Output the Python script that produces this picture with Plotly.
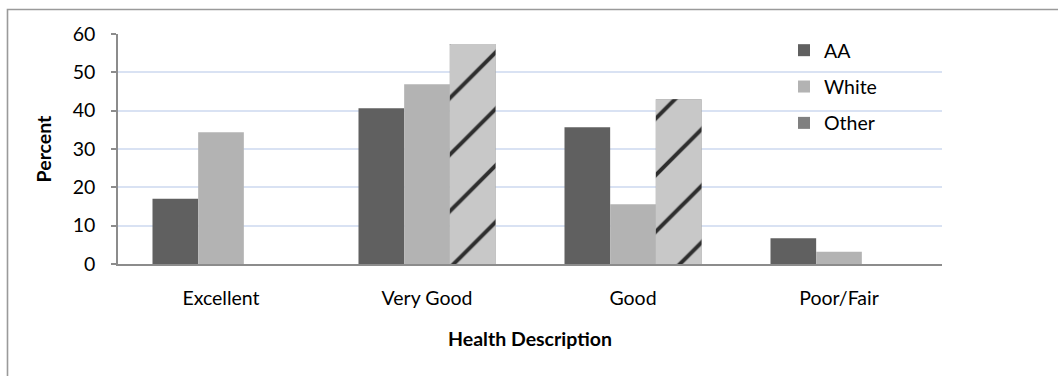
import plotly.graph_objects as go

# Self-rated health by group (percent of respondents)
categories = ["Excellent", "Very Good", "Good", "Poor/Fair"]
aa_pct = [17.0, 40.6, 35.7, 6.7]
white_pct = [34.4, 46.9, 15.6, 3.2]
other_pct = [0.0, 57.4, 43.0, 0.0]
y_ticks = [0, 10, 20, 30, 40, 50, 60]

FONT = "Lato"
FS = 19.5
W, H = 1058, 376
L, R, T, B = 118, 116, 34, 112
PW, PH = W - L - R, H - T - B

bar_w = 0.2217  # fraction of a category slot per bar

fig = go.Figure()
fig.add_trace(go.Bar(
    x=categories, y=aa_pct, name="AA", legendgroup="aa",
    width=bar_w, offset=-1.5 * bar_w,
    marker=dict(color="#606060", line=dict(width=0)),
))
fig.add_trace(go.Bar(
    x=categories, y=white_pct, name="White", legendgroup="white",
    width=bar_w, offset=-0.5 * bar_w,
    marker=dict(color="#b3b3b3", line=dict(width=0)),
))
# solid base for the "Other" series (also gives the plain legend swatch)
fig.add_trace(go.Bar(
    x=categories, y=other_pct, name="Other", legendgroup="other",
    width=bar_w, offset=0.5 * bar_w,
    marker=dict(color="#808080", line=dict(width=0)),
))
# striped texture drawn over the same "Other" bars
fig.add_trace(go.Bar(
    x=categories, y=other_pct, name="Other", legendgroup="other",
    showlegend=False, hoverinfo="skip",
    width=bar_w, offset=0.5 * bar_w,
    marker=dict(
        color="#c4c4c4", line=dict(width=0),
        pattern=dict(shape="/", fgcolor="#2e2e2e", bgcolor="#c8c8c8",
                     size=40, solidity=0.1, fillmode="replace"),
    ),
))

# chart-area frame (only top and left edges fall inside the canvas)
fig.add_shape(
    type="rect", xref="paper", yref="paper", layer="above",
    x0=(7.5 - L) / PW, x1=(W + 20 - L) / PW,
    y0=(T + PH - (H + 20)) / PH, y1=(T + PH - 9.5) / PH,
    line=dict(color="#9a9a9a", width=1.6), fillcolor="rgba(0,0,0,0)",
)

fig.update_layout(
    width=W, height=H,
    margin=dict(l=L, r=R, t=T, b=B, autoexpand=False),
    barmode="overlay",
    plot_bgcolor="white", paper_bgcolor="white",
    font=dict(family=FONT, size=FS, color="#000000"),
    showlegend=True,
    legend=dict(
        x=(784 - L) / PW, xanchor="left",
        y=(T + PH - 31) / PH, yanchor="top",
        bgcolor="rgba(0,0,0,0)", borderwidth=0,
        font=dict(family=FONT, size=FS, color="#000000"),
        tracegroupgap=8, traceorder="grouped",
    ),
    xaxis=dict(
        type="category", range=[-0.5, 3.5],
        showline=True, linecolor="#8c8c8c", linewidth=2,
        ticks="", showgrid=False, zeroline=False,
        ticklabelstandoff=16,
        tickfont=dict(family=FONT, size=FS, color="#000000"),
        title=dict(text="<b>Health Description</b>", standoff=24,
                   font=dict(family=FONT, size=FS, color="#000000")),
    ),
    yaxis=dict(
        range=[0, 60], tickvals=y_ticks, ticktext=[str(v) for v in y_ticks],
        showline=True, linecolor="#8c8c8c", linewidth=1.5,
        ticks="outside", ticklen=5, tickcolor="#8c8c8c", tickwidth=1.5,
        showgrid=True, gridcolor="#d9e2f3", gridwidth=1.5, zeroline=False,
        ticklabelstandoff=12,
        tickfont=dict(family=FONT, size=FS, color="#000000"),
        title=dict(text="<b>Percent</b>", standoff=16,
                   font=dict(family=FONT, size=FS, color="#000000")),
    ),
)

fig.write_html("out.html")
